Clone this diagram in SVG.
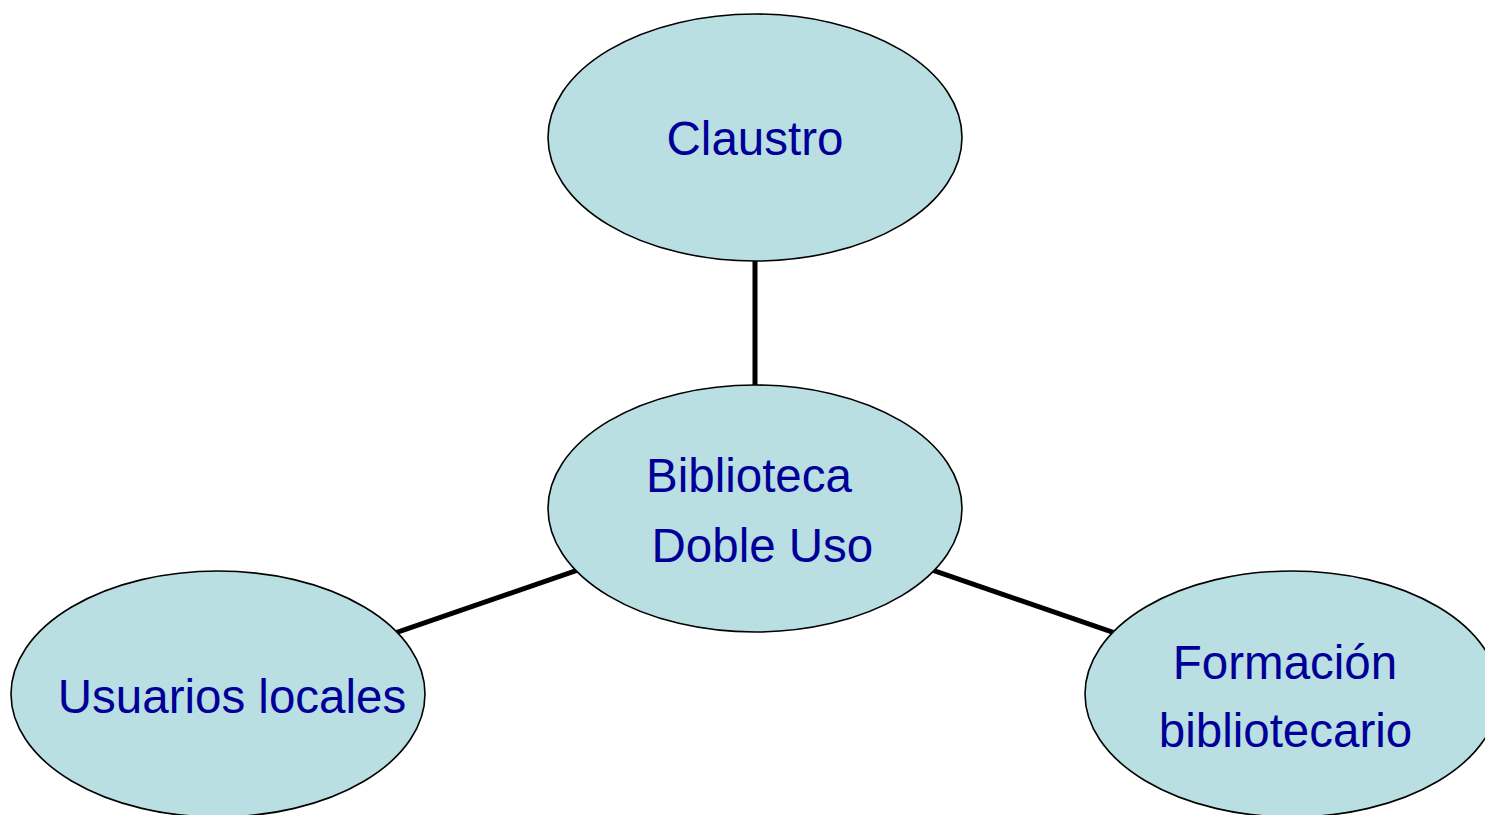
<svg xmlns="http://www.w3.org/2000/svg" width="1485" height="815" viewBox="0 0 1485 815">
<style>
.node ellipse{fill:#B9DFE2;stroke:#000;stroke-width:1.6}
.node text{font-family:"Liberation Sans",Arial,sans-serif;font-size:47.5px;fill:#000099}
.edge{stroke:#000;stroke-width:5;fill:none}
</style>
<rect width="1485" height="815" fill="#fff"/>
<g id="connectors">
<line class="edge" x1="755" y1="137" x2="755" y2="509"/>
<line class="edge" x1="755" y1="509" x2="218" y2="694"/>
<line class="edge" x1="755" y1="509" x2="1292" y2="694"/>
</g>
<g id="claustro" class="node">
<ellipse cx="755" cy="137.5" rx="207" ry="123.5"/>
<text x="755" y="154.5" text-anchor="middle">Claustro</text>
</g>
<g id="biblioteca" class="node">
<ellipse cx="755" cy="508.5" rx="207" ry="123.5"/>
<text x="646" y="492">Biblioteca</text>
<text x="651.5" y="562">Doble Uso</text>
</g>
<g id="usuarios" class="node">
<ellipse cx="218" cy="694" rx="207" ry="123"/>
<text x="232" y="713" text-anchor="middle">Usuarios locales</text>
</g>
<g id="formacion" class="node">
<ellipse cx="1292" cy="694" rx="207" ry="123"/>
<text x="1285" y="678.5" text-anchor="middle">Formación</text>
<text x="1285.5" y="747" text-anchor="middle">bibliotecario</text>
</g>
</svg>
